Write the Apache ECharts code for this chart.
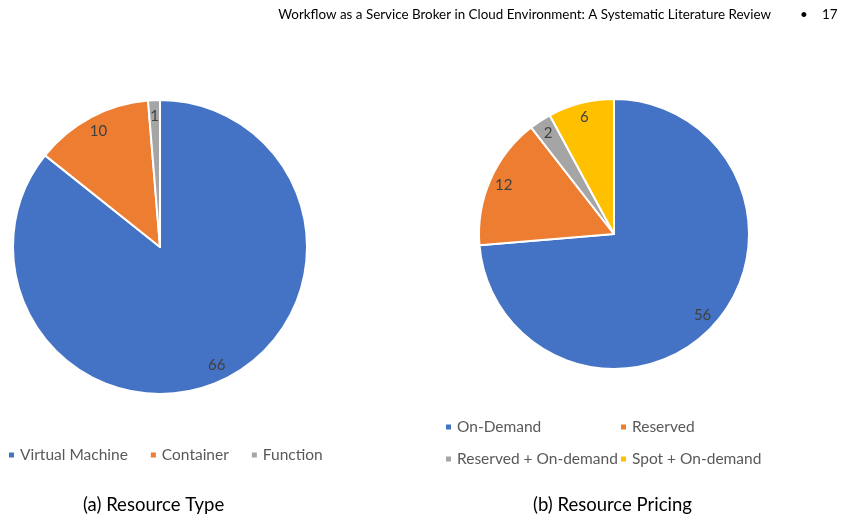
<!DOCTYPE html>
<html>
<head>
<meta charset="utf-8">
<script src="https://cdn.jsdelivr.net/npm/echarts@6/dist/echarts.min.js"></script>
<style>
  html, body { margin: 0; padding: 0; background: #fff; }
  #chart { width: 842px; height: 521px; }
</style>
</head>
<body>
<div id="chart"></div>
<script>
const typeNames = ['Virtual Machine', 'Container', 'Function'];
const typeValues = [66, 10, 1];
const pricingNames = ['On-Demand', 'Reserved', 'Reserved + On-demand', 'Spot + On-demand'];
const pricingValues = [56, 12, 2, 6];
const palette = ['#4472C4', '#ED7D31', '#A5A5A5', '#FFC000'];

const font = 'Lato, "Open Sans", sans-serif';

function toData(names, values) {
    return names.map((n, i) => ({ name: n, value: values[i], itemStyle: { color: palette[i] } }));
}

// visible pie
function pie(names, values, center, r) {
    return {
        type: 'pie',
        center: center,
        radius: [0, r],
        startAngle: 90,
        clockwise: true,
        avoidLabelOverlap: false,
        label: { show: false },
        labelLine: { show: false },
        itemStyle: { borderColor: '#fff', borderWidth: 2 },
        emphasis: { disabled: true },
        data: toData(names, values),
    };
}

// transparent copy, only to put value labels near the rim like Excel does
function labels(names, values, center, r) {
    return {
        type: 'pie',
        center: center,
        radius: [0, r * 1.74],
        startAngle: 90,
        clockwise: true,
        silent: true,
        avoidLabelOverlap: false,
        emphasis: { disabled: true },
        itemStyle: { color: 'transparent', borderWidth: 0 },
        label: {
            show: true,
            position: 'inside',
            formatter: '{c}',
            color: '#404040',
            fontSize: 15,
            fontFamily: font,
        },
        labelLine: { show: false },
        data: names.map((n, i) => ({ name: n, value: values[i] })),
    };
}

function legend(data, left, top, orient, gap) {
    return {
        data: data.map((n) => ({ name: n, itemStyle: { color: palette[pricingNames.concat(typeNames).indexOf(n) % 4] } })),
        left: left,
        top: top,
        orient: orient,
        icon: 'rect',
        itemWidth: 7,
        itemHeight: 7,
        itemGap: gap,
        padding: 0,
        selectedMode: false,
        textStyle: { color: '#595959', fontSize: 15.5, fontFamily: font },
    };
}

const head = { fontSize: 13.4, fontWeight: 'normal', color: '#000', fontFamily: font };
const caption = { fontSize: 18.5, fontWeight: 'normal', color: '#000', fontFamily: font };

const chart = echarts.init(document.getElementById('chart'));
chart.setOption({
    animation: false,
    title: [
        { text: 'Workflow as a Service Broker in Cloud Environment: A Systematic Literature Review', right: 71, top: 8, padding: 0, textStyle: head },
        { text: '•', left: 800, top: 8, padding: 0, textStyle: head },
        { text: '17', left: 822, top: 8, padding: 0, textStyle: head },
        { text: '(a) Resource Type', left: 83, top: 496, padding: 0, textStyle: caption },
        { text: '(b) Resource Pricing', left: 533, top: 496, padding: 0, textStyle: caption },
    ],
    legend: [
        legend(typeNames, 7, 447, 'horizontal', 21),
        legend([pricingNames[0], pricingNames[2]], 444, 419, 'vertical', 16),
        legend([pricingNames[1], pricingNames[3]], 619, 419, 'vertical', 16),
    ],
    series: [
        pie(typeNames, typeValues, [160, 247], 147),
        pie(pricingNames, pricingValues, [614, 234], 135),
        labels(typeNames, typeValues, [160, 247], 147),
        labels(pricingNames, pricingValues, [614, 234], 135),
    ],
});
</script>
</body>
</html>
